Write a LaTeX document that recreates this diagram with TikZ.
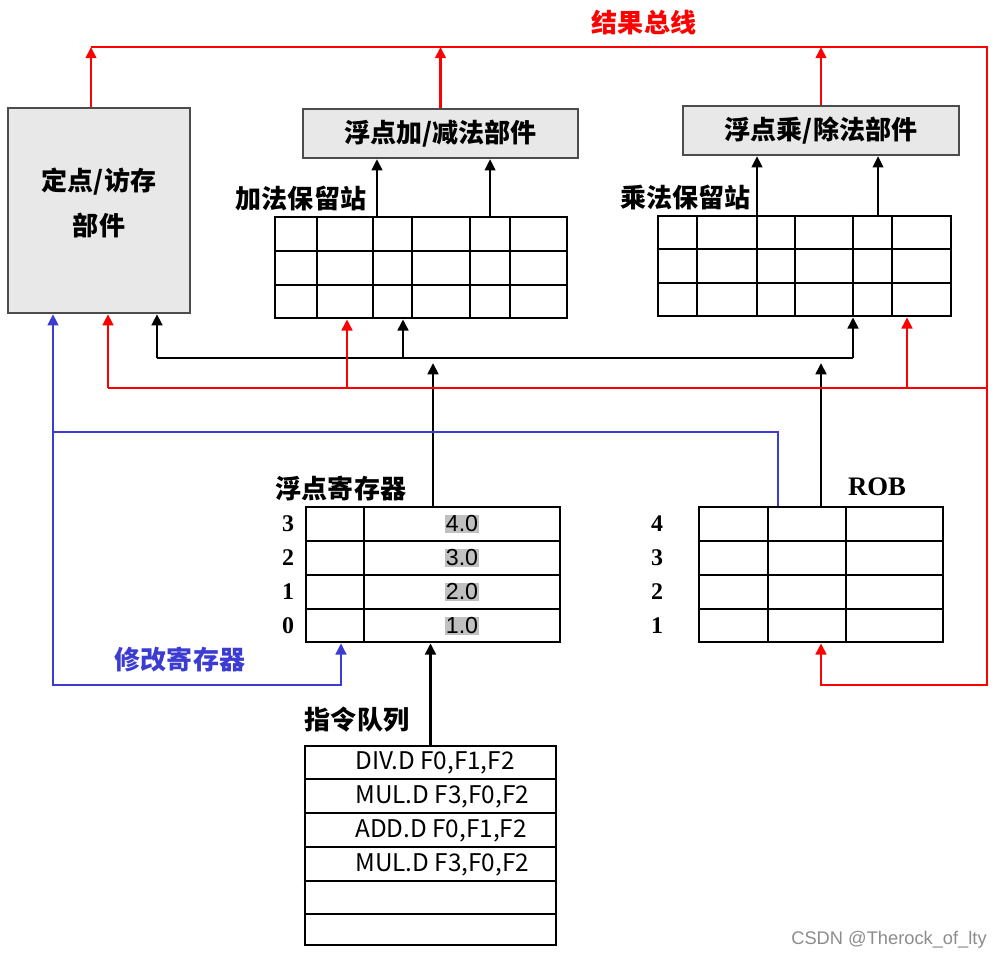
\documentclass[tikz,border=0pt]{standalone}
\usepackage{fontspec}
\setmainfont{Liberation Serif}
\newfontfamily\cjk{Noto Sans CJK SC}
\newfontfamily\uisans{Liberation Sans}
\usetikzlibrary{arrows.meta,positioning,calc}
\definecolor{busred}{RGB}{255,0,0}
\definecolor{modblue}{RGB}{60,60,210}
\definecolor{unitgray}{RGB}{232,232,232}
\definecolor{valgray}{RGB}{192,192,192}

\begin{document}
\begin{tikzpicture}[
  x=0.025cm, y=-0.025cm,
  >={Triangle[length=8pt,width=7.5pt]},
  unit/.style={draw=black!70,fill=unitgray,line width=1.6pt,inner sep=0pt},
  tab/.style={draw,line width=1.8pt,inner sep=0pt},
  grid/.style={line width=1.8pt},
  rbus/.style={draw=busred,line width=2.1pt},
  kbus/.style={line width=2.1pt},
  feed/.style={line width=1.5pt},
  blu/.style={draw=modblue,line width=1.9pt},
  zh/.style={font=\cjk\bfseries\fontsize{18.5}{21}\selectfont},
  idx/.style={font=\bfseries\fontsize{17}{19}\selectfont},
  val/.style={font=\uisans\fontsize{16.5}{18}\selectfont,fill=valgray,inner sep=0.6pt},
  ins/.style={font=\cjk\fontsize{17.3}{19}\selectfont,anchor=west,inner sep=0pt}
]
  \useasboundingbox (0,0) rectangle (1004,959);

  \node[unit,minimum width=4.55cm,minimum height=5.125cm] (fxu) at (99,210.5) {};
  \node[zh,align=center] (fxut) at (99,203) {定点/访存\\[11pt]部件};
  \node[unit,zh,minimum width=6.875cm,minimum height=1.225cm] (addu) at (440.5,133.5) {浮点加/减法部件};
  \node[unit,zh,minimum width=6.9cm,minimum height=1.225cm] (mulu) at (821,130.5) {浮点乘/除法部件};

  \node[tab,minimum width=7.3cm,minimum height=2.525cm] (addrs) at (421,267.5) {};
  \node[tab,minimum width=7.325cm,minimum height=2.5cm] (mulrs) at (804.5,266) {};
  \node[tab,minimum width=6.35cm,minimum height=3.375cm] (reg) at (433,574.5) {};
  \node[tab,minimum width=6.1cm,minimum height=3.375cm] (rob) at (821,574.5) {};
  \node[tab,minimum width=6.275cm,minimum height=4.975cm] (iq) at (430.5,845.5) {};

  \foreach \yy in {251,285} \draw[grid] (addrs.west |- 0,\yy) -- (addrs.east |- 0,\yy);
  \foreach \xx in {317,373,412,470,510} \draw[grid] (addrs.north -| \xx,0) -- (addrs.south -| \xx,0);
  \foreach \yy in {249,283} \draw[grid] (mulrs.west |- 0,\yy) -- (mulrs.east |- 0,\yy);
  \foreach \xx in {697,757,795,853,892} \draw[grid] (mulrs.north -| \xx,0) -- (mulrs.south -| \xx,0);
  \foreach \yy in {541,575,609} \draw[grid] (reg.west |- 0,\yy) -- (reg.east |- 0,\yy);
  \draw[grid] (reg.north -| 364,0) -- (reg.south -| 364,0);
  \foreach \yy in {541,575,609} \draw[grid] (rob.west |- 0,\yy) -- (rob.east |- 0,\yy);
  \foreach \xx in {768,846} \draw[grid] (rob.north -| \xx,0) -- (rob.south -| \xx,0);
  \foreach \yy in {779,813,847,881,914} \draw[grid] (iq.west |- 0,\yy) -- (iq.east |- 0,\yy);

  \node[zh,text=busred] (bustitle) at (644,23) {结果总线};
  \node[zh] (addlbl) at (301,198) {加法保留站};
  \node[zh] (mullbl) at (685.5,197) {乘法保留站};
  \node[zh] (reglbl) at (341,489) {浮点寄存器};
  \node[font=\bfseries\fontsize{19}{21}\selectfont] (roblbl) at (877,487) {ROB};
  \node[zh,text=modblue] (modlbl) at (180,660) {修改寄存器};
  \node[zh] (iqlbl) at (357,720) {指令队列};

  \foreach \n/\v/\yy in {3/4.0/524,2/3.0/558,1/2.0/592,0/1.0/626} {
    \node[idx] (rn\n) at (288,\yy) {\n};
    \node[val] (rv\n) at (462,\yy) {\v};
  }
  \foreach \n/\yy in {4/524,3/558,2/592,1/626}
    \node[idx] (bn\n) at (657,\yy) {\n};

  \node[ins] (i1) at (355,763) {DIV.D F0,F1,F2};
  \node[ins] (i2) at (355,797) {MUL.D F3,F0,F2};
  \node[ins] (i3) at (355,831) {ADD.D F0,F1,F2};
  \node[ins] (i4) at (355,865) {MUL.D F3,F0,F2};

  \node[font=\uisans\fontsize{13}{15}\selectfont,text=black!45] (wm) at (889,940) {CSDN @Therock\_of\_lty};

  % operand bus
  \coordinate (kL) at (157,358);
  \coordinate (kA) at (403,358);
  \coordinate (kR) at (853,358);
  \draw[kbus] (kL) -- (kR);
  \draw[kbus,->] (kL) -- (kL |- fxu.south);
  \draw[kbus,->] (kA) -- (kA |- addrs.south);
  \draw[kbus,->] (kR) -- (kR |- mulrs.south);
  \draw[kbus,->] (reg.north) -- ([yshift=-0.125cm]reg.north |- kL);
  \draw[kbus,->] (rob.north) -- ([yshift=-0.125cm]rob.north |- kL);
  \draw[kbus,->] (iq.north) -- (iq.north |- reg.south);

  \draw[feed,->] ([xshift=-1.1cm]addrs.north) -- ([xshift=-1.1cm]addrs.north |- addu.south);
  \draw[feed,->] ([xshift=1.725cm]addrs.north) -- ([xshift=1.725cm]addrs.north |- addu.south);
  \draw[feed,->] ([xshift=-1.1875cm]mulrs.north) -- ([xshift=-1.1875cm]mulrs.north |- mulu.south);
  \draw[feed,->] ([xshift=1.8375cm]mulrs.north) -- ([xshift=1.8375cm]mulrs.north |- mulu.south);

  % result bus
  \coordinate (bTL) at (91,47);
  \coordinate (bTR) at (987,47);
  \coordinate (bBR) at (987,685);
  \draw[rbus,->] (bTL) -- (bTR) -- (bBR) -| (rob.south);
  \draw[rbus,->] (fxu.north -| bTL) -- (bTL);
  \draw[rbus,->] (addu.north) -- (addu.north |- bTL);
  \draw[rbus,->] (mulu.north) -- (mulu.north |- bTL);

  \coordinate (rL) at (108,388);
  \coordinate (rA) at (347,388);
  \coordinate (rM) at (907,388);
  \coordinate (rR) at (987,388);
  \draw[rbus] (rL) -- (rR);
  \draw[rbus,->] (rL) -- (rL |- fxu.south);
  \draw[rbus,->] (rA) -- (rA |- addrs.south);
  \draw[rbus,->] (rM) -- (rM |- mulrs.south);

  % register update path
  \coordinate (u1) at (778,432);
  \coordinate (u2) at (53,432);
  \coordinate (u3) at (53,685);
  \coordinate (u4) at (341,685);
  \draw[blu,->] (rob.north -| u1) -- (u1) -- (u2) -- (u2 |- fxu.south);
  \draw[blu,->] (u2) -- (u3) -- (u4) -- (u4 |- reg.south);
\end{tikzpicture}
\end{document}
